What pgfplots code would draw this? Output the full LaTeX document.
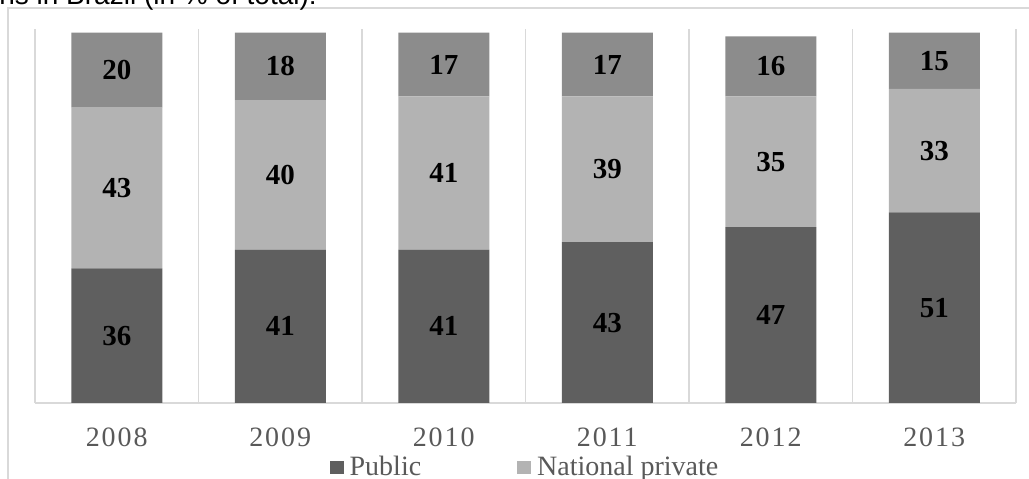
\documentclass[border=0pt]{standalone}
\usepackage{fontspec}
\setmainfont{Liberation Serif}
\newfontfamily\arial{Liberation Sans}
\newfontfamily\spacedserif[LetterSpace=7]{Liberation Serif}
\usepackage{pgfplots}
\usepackage{pgfplotstable}
\pgfplotsset{compat=1.18}
\definecolor{pubgray}{HTML}{5F5F5F}
\definecolor{natgray}{HTML}{B3B3B3}
\definecolor{forgray}{HTML}{8C8C8C}
\definecolor{gridgray}{HTML}{D9D9D9}
\definecolor{labelgray}{HTML}{595959}
\pgfplotstableread{
x pub nat for
0 36 43 20
1 41 40 18
2 41 41 17
3 43 39 17
4 47 35 16
5 51 33 15
}\shares
\begin{document}
\begin{tikzpicture}
\draw[gridgray, line width=1.2pt] (8pt,-5pt) -- (8pt,471pt) -- (1040pt,471pt);
\node[anchor=base east, inner sep=0pt, font=\arial\fontsize{28}{30}\selectfont] at (317pt,474pt) {ns in Brazil (in \% of total):};
\begin{axis}[
  at={(35pt,76pt)}, anchor=south west,
  scale only axis, width=981pt, height=374pt,
  ybar stacked, bar width=91pt,
  xmin=-0.5, xmax=5.5, ymin=0, ymax=100,
  xtick={0,1,2,3,4,5},
  xticklabels={2008,2009,2010,2011,2012,2013},
  minor xtick={-0.5,0.5,1.5,2.5,3.5,4.5,5.5},
  xminorgrids=true,
  minor grid style={draw=gridgray, line width=1.2pt},
  axis y line=none, axis x line*=bottom,
  x axis line style={draw=gridgray, line width=1.2pt},
  major tick length=0pt, minor tick length=0pt,
  xticklabel style={anchor=base, yshift=-44pt, text=labelgray, font=\spacedserif\fontsize{28}{30}\selectfont},
  nodes near coords,
  nodes near coords align={center},
  point meta=explicit symbolic,
  every node near coord/.append style={font=\bfseries\fontsize{29}{31}\selectfont, text=black},
  legend columns=2,
  legend image code/.code={\fill[#1] (0pt,-7pt) rectangle (14pt,6pt);},
  legend style={at={(0.4985,-0.171)}, anchor=center, draw=none, fill=none,
    font=\fontsize{28}{30}\selectfont, text=labelgray,
    nodes={inner xsep=0pt, inner ysep=1pt},
    /tikz/every odd column/.append style={column sep=6pt},
    /tikz/every even column/.append style={column sep=96pt}},
]
\addplot[fill=pubgray, draw=none] table[x=x, y=pub, meta=pub] {\shares};
\addlegendentry{Public}
\addplot[fill=natgray, draw=none] table[x=x, y=nat, meta=nat] {\shares};
\addlegendentry{National private}
\addplot[fill=forgray, draw=none] table[x=x, y=for, meta=for] {\shares};
\end{axis}
\pgfresetboundingbox
\useasboundingbox (0pt,0pt) rectangle (1029pt,479pt);
\end{tikzpicture}
\end{document}
